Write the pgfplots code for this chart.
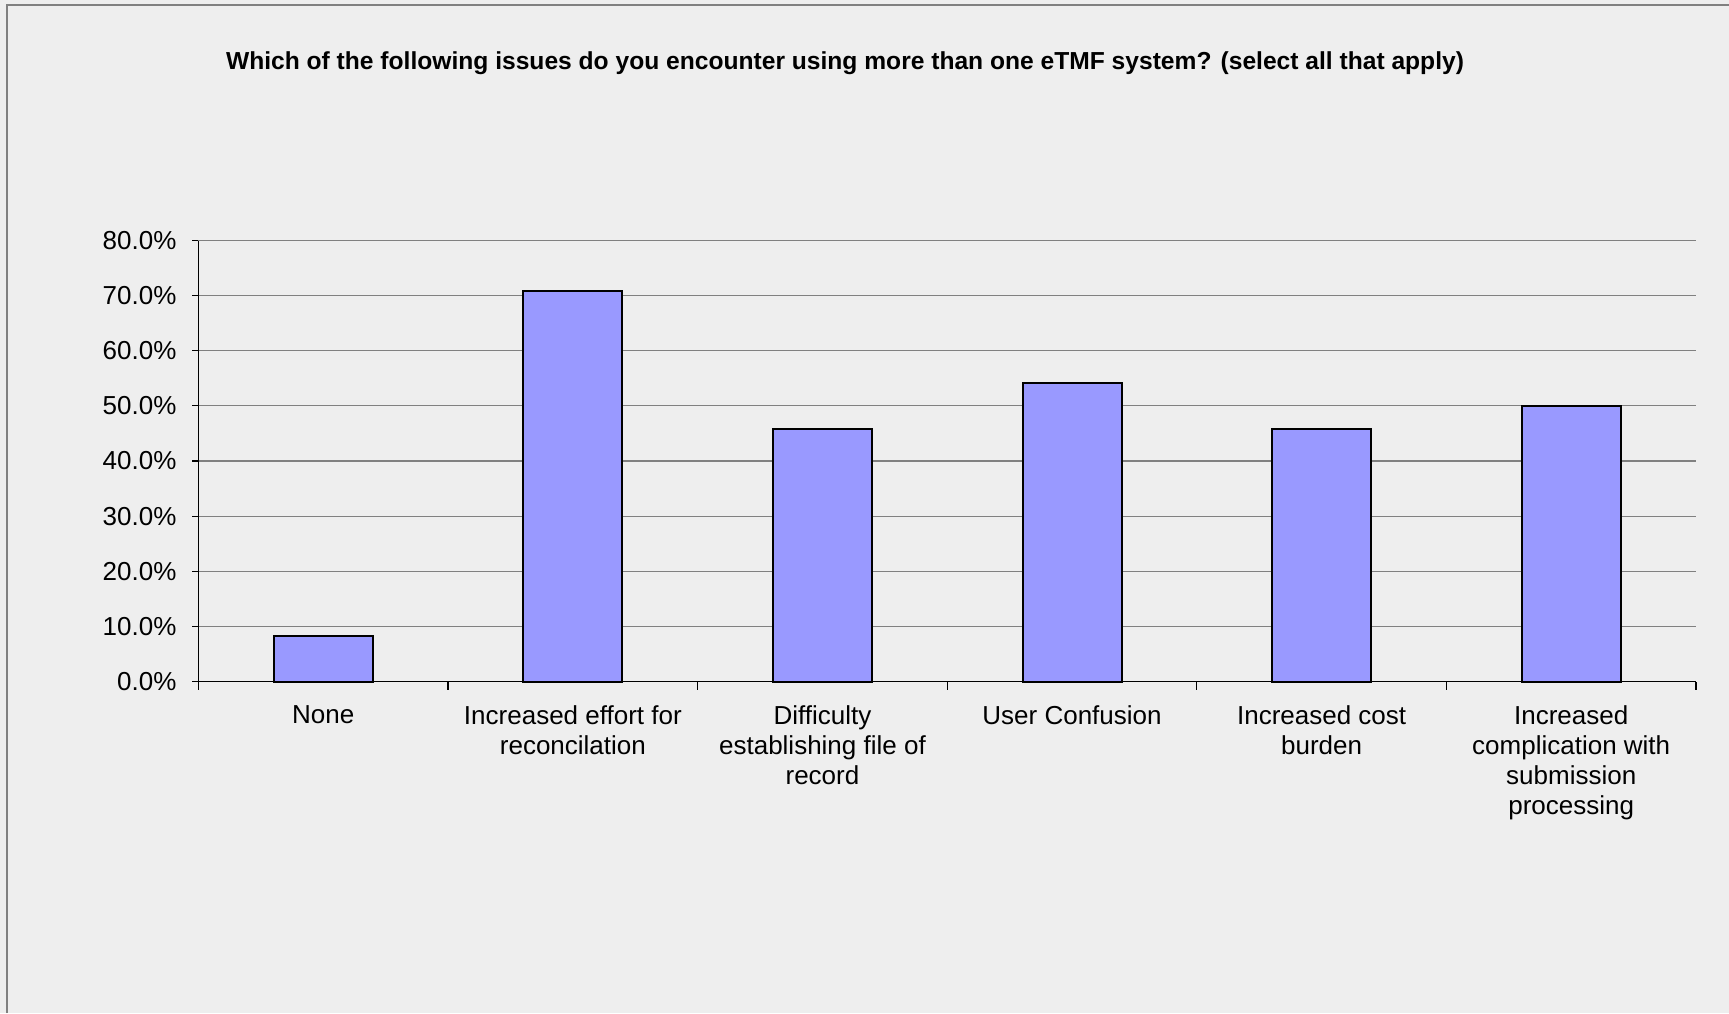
\documentclass[border=0pt]{standalone}
\usepackage{fontspec}
\setmainfont{Liberation Sans}
\usepackage{pgfplots}
\pgfplotsset{compat=1.18}
\definecolor{bg}{HTML}{EEEEEE}
\definecolor{barfill}{HTML}{9999FF}
\definecolor{gridc}{HTML}{808080}
\begin{document}
\begin{tikzpicture}
\fill[bg] (-99.25pt,-165.75pt) rectangle (765.25pt,340.75pt);
\path[use as bounding box] (-99.25pt,-165.75pt) rectangle (765.25pt,340.75pt);
\draw[gridc,line width=1pt] (-95.75pt,-165.75pt) -- (-95.75pt,338.25pt) -- (765.25pt,338.25pt);
\node[anchor=base,font=\fontsize{12.3}{14}\selectfont\bfseries] at (323.25pt,306pt) {Which of the following issues do you encounter using more than one eTMF system? (select all that apply)};
\begin{axis}[
  at={(0,0)}, anchor=south west,
  scale only axis,
  width=748.75pt, height=220.5pt,
  xmin=-0.5, xmax=5.5, ymin=0, ymax=80,
  axis lines*=left,
  axis line style={black, line width=0.8pt},
  ytick={0,10,...,80},
  /pgf/number format/assume math mode=true,
  yticklabel={\pgfmathprintnumber[fixed,fixed zerofill,precision=1]{\tick}\%},
  yticklabel style={font=\fontsize{13}{15}\selectfont, xshift=-4.5pt},
  ymajorgrids,
  major grid style={gridc, line width=0.6pt},
  xtick={0,1,2,3,4,5},
  xticklabels={None,{Increased effort for\\reconcilation},{Difficulty\\establishing file of\\record},{User Confusion},{Increased cost\\burden},{Increased\\complication with\\submission\\processing}},
  xticklabel style={font=\fontsize{13}{15}\selectfont, align=center, anchor=north, yshift=-5.5pt},
  major x tick style={draw=none},
  minor xtick={-0.5,0.5,...,5.5},
  minor x tick style={black, line width=0.6pt},
  minor tick length=4pt,
  major y tick style={black, line width=0.6pt},
  major tick length=3pt,
  tick align=outside,
  clip=false,
]
\addplot[ybar, bar width=49.5pt, fill=barfill, draw=black, line width=1pt] coordinates {
(0,8.3) (1,70.8) (2,45.8) (3,54.2) (4,45.8) (5,50.0)
};
\end{axis}
\end{tikzpicture}
\end{document}
